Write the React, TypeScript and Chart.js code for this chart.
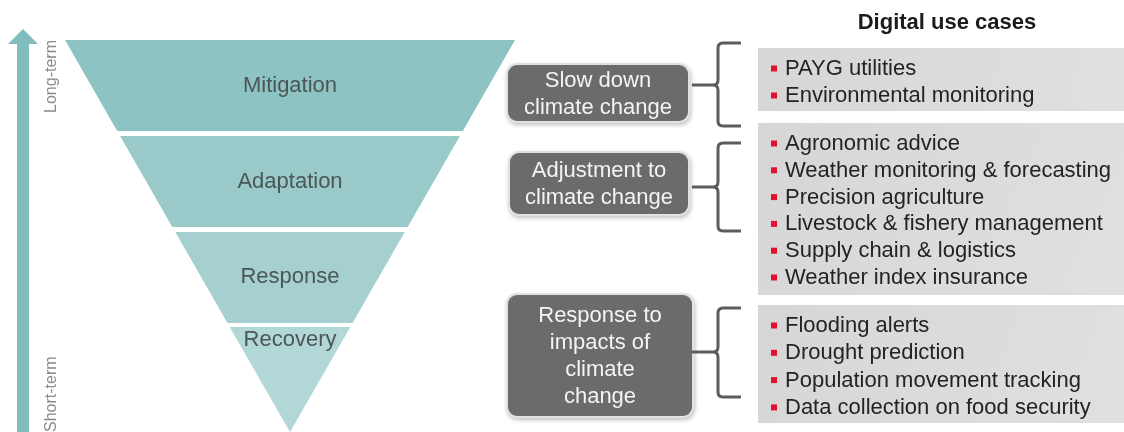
import React, { useEffect, useRef } from 'react';
import { Chart, registerables } from 'chart.js';

Chart.register(...registerables);

// ---- data ----
const stages = ['Mitigation', 'Adaptation', 'Response', 'Recovery'];
// time horizon units (0 = long-term top, 100 = short-term apex)
const stageStart = [0, 24.5, 49, 73.2];
const stageEnd = [23.2, 47.7, 72.2, 100];
const stageLabelAt = [11.7, 36.2, 60.5, 76.6];

const goals = [
  ['Slow down', 'climate change'],
  ['Adjustment to', 'climate change'],
  ['Response to', 'impacts of', 'climate', 'change'],
];

const useCasesMitigation = ['PAYG utilities', 'Environmental monitoring'];
const useCasesAdaptation = [
  'Agronomic advice',
  'Weather monitoring & forecasting',
  'Precision agriculture',
  'Livestock & fishery management',
  'Supply chain & logistics',
  'Weather index insurance',
];
const useCasesResponse = [
  'Flooding alerts',
  'Drought prediction',
  'Population movement tracking',
  'Data collection on food security',
];
const useCaseGroups = [useCasesMitigation, useCasesAdaptation, useCasesResponse];
const useCaseTitle = 'Digital use cases';
const axisLabels = ['Long-term', 'Short-term'];

// ---- styles / layout ----
const W = 1124;
const H = 432;
const FONT = '"Liberation Sans", Arial, sans-serif';
const stageColors = ['#8dc3c2', '#99cac9', '#a5d0cf', '#b1d7d6'];
const FUNNEL = { cx: 290, halfTop: 225 };
const Y_MIN = -40 / 3.92;
const Y_MAX = 100;

const goalBoxes = [
  { x: 508, y: 65, w: 180, h: 56 },
  { x: 510, y: 153, w: 178, h: 61 },
  { x: 508, y: 295, w: 184, h: 121 },
];
const braces = [
  { top: 43, mid: 85, bot: 126 },
  { top: 143, mid: 187, bot: 231 },
  { top: 308, mid: 352, bot: 397 },
];
const listBoxes = [
  { y: 48, h: 63, first: 68, step: 27 },
  { y: 123, h: 172, first: 143, step: 26.8 },
  { y: 305, h: 118, first: 325, step: 27.3 },
];

function halfW(h: number) {
  return FUNNEL.halfTop * (1 - h / 100);
}

function bandPoints(i: number) {
  const a = stageStart[i];
  const b = stageEnd[i];
  return [
    { x: FUNNEL.cx - halfW(a), y: a },
    { x: FUNNEL.cx + halfW(a), y: a },
    { x: FUNNEL.cx + halfW(b), y: b },
    { x: FUNNEL.cx - halfW(b), y: b },
    { x: FUNNEL.cx - halfW(a), y: a },
  ];
}

const overlay = {
  id: 'diagramOverlay',
  afterDatasetsDraw(chart: any) {
    const ctx: CanvasRenderingContext2D = chart.ctx;
    const xs = chart.scales.x;
    const ys = chart.scales.y;
    ctx.save();

    // stage labels
    ctx.fillStyle = '#4c5656';
    ctx.font = `22px ${FONT}`;
    ctx.textAlign = 'center';
    ctx.textBaseline = 'middle';
    stages.forEach((s, i) => {
      ctx.fillText(s, xs.getPixelForValue(FUNNEL.cx), ys.getPixelForValue(stageLabelAt[i]));
    });

    // time arrow
    ctx.fillStyle = '#80bdbc';
    ctx.fillRect(17, 42, 12, H - 42);
    ctx.beginPath();
    ctx.moveTo(23, 29);
    ctx.lineTo(38, 44);
    ctx.lineTo(8, 44);
    ctx.closePath();
    ctx.fill();

    // rotated axis labels
    ctx.fillStyle = '#8a8a8a';
    ctx.font = `16px ${FONT}`;
    ctx.textBaseline = 'middle';
    ctx.save();
    ctx.translate(52, 40);
    ctx.rotate(-Math.PI / 2);
    ctx.textAlign = 'right';
    ctx.fillText(axisLabels[0], 0, 0);
    ctx.restore();
    ctx.save();
    ctx.translate(52, 432);
    ctx.rotate(-Math.PI / 2);
    ctx.textAlign = 'left';
    ctx.fillText(axisLabels[1], 0, 0);
    ctx.restore();

    // goal boxes
    goalBoxes.forEach((b, i) => {
      ctx.save();
      ctx.shadowColor = 'rgba(0,0,0,0.25)';
      ctx.shadowBlur = 4;
      ctx.shadowOffsetX = 1;
      ctx.shadowOffsetY = 2;
      ctx.fillStyle = '#e2e2e2';
      ctx.beginPath();
      ctx.roundRect(b.x - 2, b.y - 2, b.w + 4, b.h + 4, 11);
      ctx.fill();
      ctx.restore();
      ctx.fillStyle = '#6b6b6b';
      ctx.beginPath();
      ctx.roundRect(b.x, b.y, b.w, b.h, 9);
      ctx.fill();
      const lines = goals[i];
      const lh = 27;
      const cy = b.y + b.h / 2;
      ctx.fillStyle = '#f4f4f4';
      ctx.font = `22px ${FONT}`;
      ctx.textAlign = 'center';
      ctx.textBaseline = 'middle';
      lines.forEach((t, j) => {
        ctx.fillText(t, b.x + b.w / 2, cy + (j - (lines.length - 1) / 2) * lh + 1);
      });
    });

    // braces
    ctx.strokeStyle = '#5c5c5c';
    ctx.lineWidth = 3;
    ctx.lineCap = 'butt';
    braces.forEach((br) => {
      const vx = 718;
      const r = 5;
      ctx.beginPath();
      ctx.moveTo(741, br.top);
      ctx.lineTo(vx + r, br.top);
      ctx.quadraticCurveTo(vx, br.top, vx, br.top + r);
      ctx.lineTo(vx, br.mid - r);
      ctx.quadraticCurveTo(vx, br.mid, vx - r, br.mid);
      ctx.lineTo(692, br.mid);
      ctx.moveTo(vx - r, br.mid);
      ctx.quadraticCurveTo(vx, br.mid, vx, br.mid + r);
      ctx.lineTo(vx, br.bot - r);
      ctx.quadraticCurveTo(vx, br.bot, vx + r, br.bot);
      ctx.lineTo(741, br.bot);
      ctx.stroke();
    });

    // title
    ctx.fillStyle = '#1c1c1c';
    ctx.font = `bold 22px ${FONT}`;
    ctx.textAlign = 'center';
    ctx.textBaseline = 'middle';
    ctx.fillText(useCaseTitle, 947, 23);

    // list boxes
    listBoxes.forEach((lb, i) => {
      const g = ctx.createLinearGradient(758, lb.y, W, lb.y + lb.h);
      g.addColorStop(0, '#d6d6d6');
      g.addColorStop(1, '#e0e0e0');
      ctx.fillStyle = g;
      ctx.fillRect(758, lb.y, W - 758, lb.h);
      useCaseGroups[i].forEach((t, j) => {
        const y = lb.first + j * lb.step;
        ctx.fillStyle = '#e3112d';
        ctx.fillRect(771, y - 2.5, 6, 6);
        ctx.fillStyle = '#232323';
        ctx.font = `22px ${FONT}`;
        ctx.textAlign = 'left';
        ctx.textBaseline = 'middle';
        ctx.fillText(t, 785, y + 1);
      });
    });

    ctx.restore();
  },
};

export default function App() {
  const ref = useRef<HTMLCanvasElement | null>(null);
  useEffect(() => {
    if (!ref.current) return;
    const chart = new Chart(ref.current, {
      type: 'line',
      data: {
        datasets: stages.map((s, i) => ({
          label: s,
          data: bandPoints(i),
          backgroundColor: stageColors[i],
          borderWidth: 0,
          pointRadius: 0,
          fill: 'shape',
          tension: 0,
        })),
      },
      options: {
        animation: false,
        responsive: true,
        maintainAspectRatio: false,
        layout: { padding: 0 },
        plugins: { legend: { display: false }, tooltip: { enabled: false } },
        scales: {
          x: { type: 'linear', min: 0, max: W, display: false },
          y: { type: 'linear', min: Y_MIN, max: Y_MAX, reverse: true, display: false },
        },
      },
      plugins: [overlay],
    } as any);
    return () => chart.destroy();
  }, []);
  return (
    <div style={{ position: 'fixed', left: 0, top: 0, width: W, height: H, background: '#fff' }}>
      <canvas ref={ref} />
    </div>
  );
}
